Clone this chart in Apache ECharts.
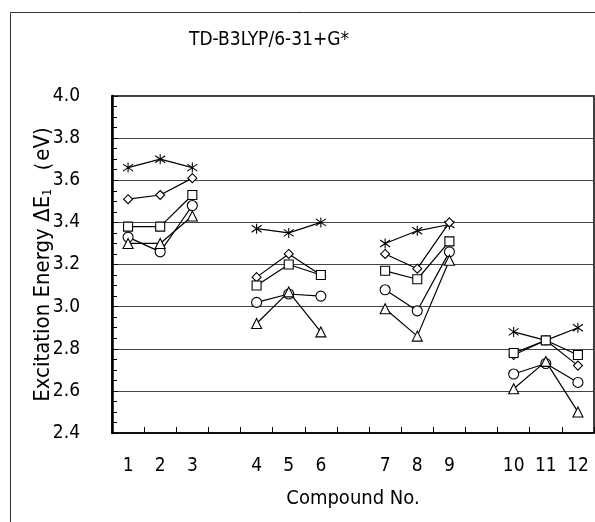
<!DOCTYPE html>
<html>
<head>
<meta charset="utf-8">
<script src="https://cdn.jsdelivr.net/npm/echarts@6/dist/echarts.min.js"></script>
<style>html,body{margin:0;padding:0;background:#fff;}#c{width:595px;height:522px;}</style>
</head>
<body>
<div id="c"></div>
<script>
// Compound numbers (a blank slot separates each group of three)
const compounds = ['1','2','3','4','5','6','7','8','9','10','11','12'];
const groupSize = 3;
// Excitation energies (eV), one array per marker series
const asteriskVals = [3.66, 3.70, 3.66, 3.37, 3.35, 3.40, 3.30, 3.36, 3.39, 2.88, 2.84, 2.90];
const diamondVals  = [3.51, 3.53, 3.61, 3.14, 3.25, 3.15, 3.25, 3.18, 3.40, 2.77, 2.84, 2.72];
const squareVals   = [3.38, 3.38, 3.53, 3.10, 3.20, 3.15, 3.17, 3.13, 3.31, 2.78, 2.84, 2.77];
const circleVals   = [3.33, 3.26, 3.48, 3.02, 3.06, 3.05, 3.08, 2.98, 3.26, 2.68, 2.73, 2.64];
const triangleVals = [3.30, 3.30, 3.43, 2.92, 3.07, 2.88, 2.99, 2.86, 3.22, 2.61, 2.74, 2.50];
const yTicks = ['2.4','2.6','2.8','3.0','3.2','3.4','3.6','3.8','4.0'];

// Build category slots with blank gaps between groups
function withGaps(arr, filler) {
  const out = [];
  arr.forEach((v, i) => {
    if (i > 0 && i % groupSize === 0) out.push(filler);
    out.push(v);
  });
  return out;
}
const categories = withGaps(compounds, '');

const FONT = "'Liberation Sans Narrow','DejaVu Sans Condensed','Roboto Condensed',Roboto,'Liberation Sans',sans-serif";
const asteriskPath = 'path://M5,0L5,10M0,1.5L10,8.5M0,8.5L10,1.5';

function mk(name, vals, symbol, size) {
  return {
    name: name,
    type: 'line',
    data: withGaps(vals, null),
    connectNulls: false,
    symbol: symbol,
    symbolSize: size,
    showAllSymbol: true,
    lineStyle: { color: '#000', width: 1.2 },
    itemStyle: { color: '#fff', borderColor: '#000', borderWidth: 1.1 },
    emphasis: { disabled: true },
    z: 3
  };
}

const chart = echarts.init(document.getElementById('c'), null, { renderer: 'canvas' });
chart.setOption({
  animation: false,
  backgroundColor: '#fff',
  textStyle: { fontFamily: FONT, color: '#000' },
  graphic: [
    { type: 'rect', shape: { x: 10.5, y: 12.5, width: 700, height: 700 },
      style: { fill: 'none', stroke: '#333', lineWidth: 1 }, silent: true },
    { type: 'text', x: 269, y: 40,
      style: { text: 'TD-B3LYP/6-31+G*', fontFamily: FONT, fontSize: 19, fill: '#000',
               textAlign: 'center', textVerticalAlign: 'middle' } }
  ],
  grid: { left: 112, top: 96, right: 1, bottom: 89, show: true, borderColor: '#000', borderWidth: 1.5, backgroundColor: 'transparent' },
  xAxis: {
    type: 'category',
    data: categories,
    boundaryGap: true,
    name: 'Compound No.',
    nameLocation: 'middle',
    nameGap: 56,
    nameTextStyle: { fontFamily: FONT, fontSize: 20, color: '#000' },
    axisLine: { lineStyle: { color: '#000', width: 1.5 } },
    axisTick: { show: true, inside: true, length: 6, interval: 0, lineStyle: { color: '#000' } },
    axisLabel: { interval: 0, margin: 24, fontFamily: FONT, fontSize: 19, color: '#000' },
    splitLine: { show: false }
  },
  yAxis: {
    type: 'value',
    min: 2.4, max: 4.0, interval: 0.2,
    name: 'Excitation Energy ΔE{s|1} （eV)',
    nameLocation: 'middle',
    nameGap: 58,
    nameMoveOverlap: false,
    nameTextStyle: { fontFamily: FONT, fontSize: 22, color: '#000',
      rich: { s: { fontFamily: FONT, fontSize: 12, padding: [10, 0, 0, 0], color: '#000' } } },
    axisLine: { show: true, lineStyle: { color: '#000', width: 2.5 } },
    axisTick: { show: true, inside: true, length: 6, lineStyle: { color: '#000' } },
    minorTick: { show: true, splitNumber: 4, length: 5, lineStyle: { color: '#000' } },
    axisLabel: { margin: 32, fontFamily: FONT, fontSize: 19, color: '#000',
      formatter: v => yTicks.find(t => Math.abs(parseFloat(t) - v) < 1e-6) || '' },
    splitLine: { show: true, lineStyle: { color: '#444', width: 1 } }
  },
  series: [
    mk('asterisk', asteriskVals, asteriskPath, 10),
    mk('diamond', diamondVals, 'diamond', 9),
    mk('square', squareVals, 'rect', 9),
    mk('circle', circleVals, 'circle', 10),
    mk('triangle', triangleVals, 'triangle', 10)
  ]
});
</script>
</body>
</html>
